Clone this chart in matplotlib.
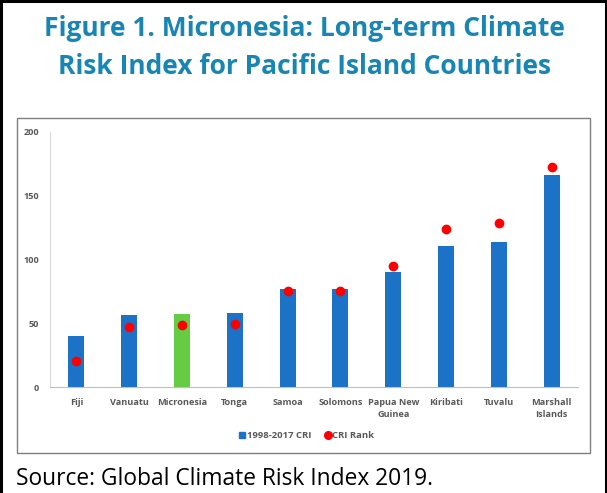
import matplotlib.pyplot as plt
from matplotlib.patches import Rectangle
from matplotlib.lines import Line2D

# data
countries = ["Fiji", "Vanuatu", "Micronesia", "Tonga", "Samoa", "Solomons",
             "Papua New\nGuinea", "Kiribati", "Tuvalu", "Marshall\nIslands"]
cri_1998_2017 = [40.1, 56.6, 57.4, 58.2, 76.7, 76.7, 90.0, 110.8, 113.9, 166.1]
cri_rank = [20.3, 47.4, 48.7, 49.3, 75.6, 75.6, 95.2, 123.6, 128.3, 172.6]
highlight = "Micronesia"

BLUE = "#1B72C6"
GREEN = "#66CC44"
RED = "#FF0000"
GRAY_TXT = "#595959"
TITLE_C = "#1786B5"

W, H = 607, 493
fig = plt.figure(figsize=(W / 100, H / 100), dpi=100)


def fx(px):
    return px / W


def fy(py):
    return 1 - py / H


# outer frame (left, top, right)
fig.add_artist(Line2D([fx(1.5), fx(1.5)], [0, 1], color="black", lw=2.2))
fig.add_artist(Line2D([0, 1], [fy(1.2), fy(1.2)], color="black", lw=2.2))
fig.add_artist(Line2D([fx(605.5), fx(605.5)], [0, 1], color="black", lw=2.2))

# inner chart box
fig.add_artist(Rectangle((fx(17), fy(452.5)), fx(590) - fx(17), fy(118) - fy(452.5),
                         transform=fig.transFigure, fill=False,
                         edgecolor="#7F7F7F", lw=1.0))

# title
title_kw = dict(ha="center", va="center", color=TITLE_C, fontsize=19,
                fontweight="bold", family="Open Sans")
fig.text(fx(304), fy(29), "Figure 1. Micronesia: Long-term Climate", **title_kw)
fig.text(fx(304), fy(67), "Risk Index for Pacific Island Countries", **title_kw)

# source
fig.text(fx(16), fy(485), "Source: Global Climate Risk Index 2019.",
         ha="left", va="baseline", fontsize=16.4, family="Open Sans", color="black")

# plot area
ax = fig.add_axes([fx(50), fy(387.3), fx(578) - fx(50), fy(131.7) - fy(387.3)])
x = list(range(len(countries)))
names_flat = [c.replace("\n", " ") for c in countries]
colors = [GREEN if n == highlight else BLUE for n in names_flat]
ax.bar(x, cri_1998_2017, width=0.3, color=colors, zorder=2)
ax.plot(x, cri_rank, "o", color=RED, markersize=6, zorder=3)

ax.set_xlim(-0.5, len(countries) - 0.5)
ax.set_ylim(0, 200)
ax.set_yticks([0, 50, 100, 150, 200])
ax.set_xticks(x)
ax.set_xticklabels(countries, linespacing=1.3)
ax.tick_params(length=0, labelsize=6.6, labelcolor=GRAY_TXT, pad=8)
for lab in ax.get_xticklabels() + ax.get_yticklabels():
    lab.set_fontweight("bold")
    lab.set_family("Open Sans")
for s in ["top", "right"]:
    ax.spines[s].set_visible(False)
ax.spines["left"].set_color("#D9D9D9")
ax.spines["bottom"].set_color("#BFBFBF")

handles = [
    Line2D([], [], marker="s", ls="", color=BLUE, markersize=5),
    Line2D([], [], marker="o", ls="", color=RED, markersize=5.5),
]
leg = ax.legend(handles, ["1998-2017 CRI", "CRI Rank"], loc="center",
                bbox_to_anchor=(fx(306), fy(436)), bbox_transform=fig.transFigure,
                ncol=2, frameon=False, handletextpad=0.0, columnspacing=1.2,
                handlelength=1.0, prop={"family": "Open Sans", "weight": "bold", "size": 6.8})
for t in leg.get_texts():
    t.set_color(GRAY_TXT)

fig.savefig("out.png", dpi=100)
